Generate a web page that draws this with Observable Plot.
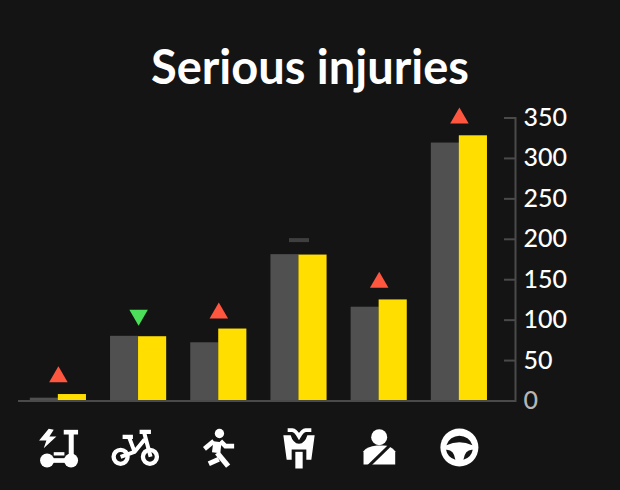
<!DOCTYPE html>
<html><head><meta charset="utf-8">
<script src="https://cdn.jsdelivr.net/npm/d3@7"></script>
<script src="https://cdn.jsdelivr.net/npm/@observablehq/plot@0.6"></script>
<style>
html,body{margin:0;padding:0;background:#141414;width:620px;height:490px;overflow:hidden}
#title{height:100px;box-sizing:border-box;padding-top:36px;text-align:center;color:#fff;font:700 47px/60px Lato,sans-serif;white-space:nowrap}
svg{display:block}
</style></head><body>
<div id="title">Serious injuries</div>
<div id="chart"></div>
<script>
const categories = ["E-scooter","Cyclist","Pedestrian","Motorcyclist","Passenger","Driver"];
const previous = [3.5,80,72,181,116,319];
const current  = [8,79.5,89,180.5,125,328];
const trendUp = [["E-scooter",33],["Pedestrian",112],["Passenger",150],["Driver",353]];
const trendDown = [["Cyclist",103]];
const trendFlat = [["Motorcyclist",199]];
const yTicks = [50,100,150,200,250,300,350];
const zeroTick = [0];
const BG = "#141414", W = "#ffffff";
const iconBodies = [
 ["24 21 180 180",`<circle cx="80" cy="150" r="21"/><circle cx="152" cy="150" r="21"/><rect x="80" y="143" width="72" height="14"/><rect x="100" y="125" width="32" height="10"/><rect x="145" y="60" width="15" height="90"/><rect x="130" y="58" width="43" height="14"/><path d="M85 55L56 90H78L70 113L108 78H87L100 58Z"/>`],
 ["-6 -21 180 180",`<g fill="none" stroke="#fff"><circle cx="30" cy="97" r="21" stroke-width="13"/><circle cx="118" cy="97" r="21" stroke-width="13"/><path d="M100 22L120 97M30 97L72 82L102 45M55 37L72 82" stroke-width="12"/><path d="M36 37H67M87 22H121" stroke-width="13"/></g>`],
 ["-30 -21 180 180",`<circle cx="62" cy="27" r="14"/><g fill="none" stroke="#fff"><path d="M56 52L52 85" stroke-width="25"/><path d="M45 50L17 73" stroke-width="14"/><path d="M65 50L80 65H106" stroke-width="14"/><path d="M55 85L88 125" stroke-width="16"/><path d="M60 104L30 118" stroke-width="15"/></g>`],
 ["-30 -21 180 180",`<path d="M13 32H35Q42 56 60 58Q78 56 85 32H107L97 106H82V75H38V106H23Z"/><rect x="49" y="82" width="22" height="50"/><path d="M26 17H40Q50 18 60 36Q70 18 80 17H97" fill="none" stroke="#fff" stroke-width="11"/>`],
 ["237 21 180 180",`<circle cx="327" cy="80" r="24"/><path d="M280 162V122Q290 108 320 105H340Q362 105 375 122V162Z"/><path d="M292 170L366 98" fill="none" stroke="${BG}" stroke-width="9"/>`],
 ["-21 -21 180 180",`<circle cx="69" cy="69" r="57"/><path d="M30 62A41 41 0 0 1 108 62Q69 44 30 62Z" fill="${BG}"/><path d="M29 76Q52 74 57 106Q33 99 29 76Z" fill="${BG}"/><path d="M109 76Q86 74 81 106Q105 99 109 76Z" fill="${BG}"/>`]
];
const icons = categories.map((c,i)=>({c,src:"data:image/svg+xml,"+encodeURIComponent(`<svg xmlns="http://www.w3.org/2000/svg" viewBox="${iconBodies[i][0]}" fill="#fff">${iconBodies[i][1]}</svg>`)}));
const table = categories.map((c,i)=>({c,p:previous[i],v:current[i]}));
const symUp = {draw(ctx){ctx.moveTo(0,-8);ctx.lineTo(9.25,8);ctx.lineTo(-9.25,8);ctx.closePath();}};
const symDown = {draw(ctx){ctx.moveTo(0,8);ctx.lineTo(9.25,-8);ctx.lineTo(-9.25,-8);ctx.closePath();}};
const symFlat = {draw(ctx){ctx.rect(-10,-2,20,4);}};
const axisFont = {fontSize:25, fontWeight:500, fontFamily:"Lato,sans-serif"};
const plot = Plot.plot({
  width:620, height:390, marginLeft:18, marginRight:105, marginTop:17.5, marginBottom:89.5,
  style:{background:"transparent",overflow:"visible"},
  x:{domain:categories, range:[17.8,499], paddingInner:0.3, paddingOuter:0.15, round:false, axis:null},
  y:{domain:[0,350], label:null},
  marks:[
    Plot.barY(table,{x:"c",y:"p",fill:"#505050",insetRight:28}),
    Plot.barY(table,{x:"c",y:"v",fill:"#ffde00",insetLeft:28}),
    Plot.ruleY([0],{stroke:"#4a4a4a",strokeWidth:2}),
    Plot.frame({anchor:"right",stroke:"#4a4a4a",strokeWidth:2}),
    Plot.axisY({anchor:"right",ticks:[...zeroTick,...yTicks],tickSize:12,dx:-12,stroke:"#4a4a4a",strokeWidth:2,tickFormat:()=>"",label:null}),
    Plot.axisY({anchor:"right",ticks:yTicks,tickSize:0,tickPadding:8,fill:W,label:null,...axisFont}),
    Plot.axisY({anchor:"right",ticks:zeroTick,tickSize:0,tickPadding:8,fill:"#b5b5b5",label:null,...axisFont}),
    Plot.dot(trendUp,{x:d=>d[0],y:d=>d[1],symbol:symUp,r:5,fill:"#ff5640",stroke:"none"}),
    Plot.dot(trendDown,{x:d=>d[0],y:d=>d[1],symbol:symDown,r:5,fill:"#4ce05a",stroke:"none"}),
    Plot.dot(trendFlat,{x:d=>d[0],y:d=>d[1],symbol:symFlat,r:5,fill:"#3f3f3f",stroke:"none"}),
    Plot.image(icons,{x:"c",src:"src",frameAnchor:"bottom",dy:46.5,width:60,height:60})
  ]
});
document.getElementById("chart").append(plot);
</script></body></html>
